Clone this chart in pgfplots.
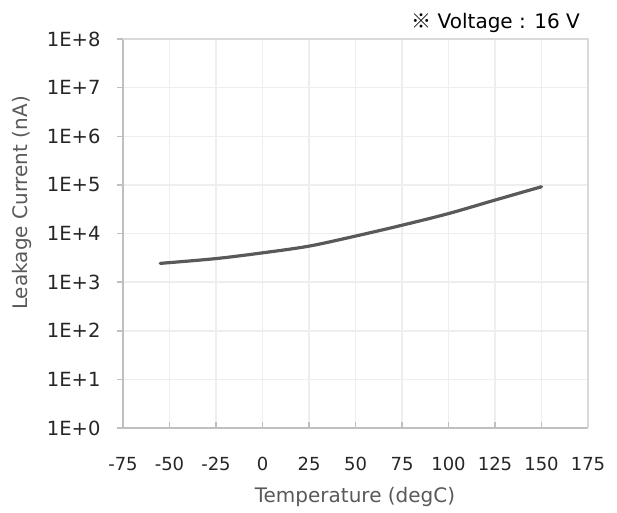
\documentclass[border=0pt]{standalone}
\usepackage{pgfplots}
\pgfplotsset{compat=1.18}
\usepackage{fontspec}
\setmainfont{DejaVu Sans}
\newfontfamily\cjk{Noto Sans CJK JP}
\definecolor{gridc}{RGB}{238,238,238}
\definecolor{boxc}{RGB}{217,217,217}
\definecolor{axc}{RGB}{191,191,191}
\definecolor{linec}{RGB}{89,89,89}
\definecolor{txt}{RGB}{89,89,89}
\begin{document}
\begin{tikzpicture}[x=1pt,y=1pt]
\useasboundingbox (0,0) rectangle (617,512);
\begin{semilogyaxis}[
  at={(123pt,84pt)}, anchor=south west,
  scale only axis, width=465pt, height=389pt,
  xmin=-75, xmax=175, ymin=1, ymax=1e8,
  xtick={-75,-50,...,175},
  ytick={1,10,100,1000,10000,100000,1000000,10000000,100000000},
  yticklabels={1E+0,1E+1,1E+2,1E+3,1E+4,1E+5,1E+6,1E+7,1E+8},
  log basis y=10,
  minor ytick={}, yminorticks=false,
  grid=major,
  major grid style={gridc, line width=1.5pt},
  axis x line*=bottom, axis y line*=left,
  separate axis lines,
  x axis line style={axc, line width=1.5pt, -},
  y axis line style={axc, line width=1.5pt, -},
  tick style={axc, line width=1.5pt},
  major tick length=6pt,
  xtick align=inside, ytick align=outside,
  ticklabel style={text=black!85},
  /pgf/number format/assume math mode=true,
  xticklabel style={yshift=-26pt, font=\fontsize{18}{21}\selectfont},
  yticklabel style={xshift=-13pt, font=\fontsize{19.5}{22}\selectfont},
  clip=false,
]
\draw[boxc, line width=1.5pt] (axis cs:-75,1e8) -- (axis cs:175,1e8) -- (axis cs:175,1);
\addplot[linec, line width=3.2pt, smooth, line cap=round] coordinates {
(-55,2430) (-25,3050) (0,4000) (25,5500) (50,8850) (75,14800) (100,25700) (125,48700) (150,91500)
};
\end{semilogyaxis}
\node[anchor=base east, font=\fontsize{20}{24}\selectfont, inner sep=0pt] at (580,483) {{\cjk ※} Voltage : 16 V};
\node[rotate=90, font=\fontsize{20}{24}\selectfont, text=txt] at (22,309) {Leakage Current (nA)};
\node[font=\fontsize{20}{24}\selectfont, text=txt] at (355,15) {Temperature (degC)};
\end{tikzpicture}
\end{document}
